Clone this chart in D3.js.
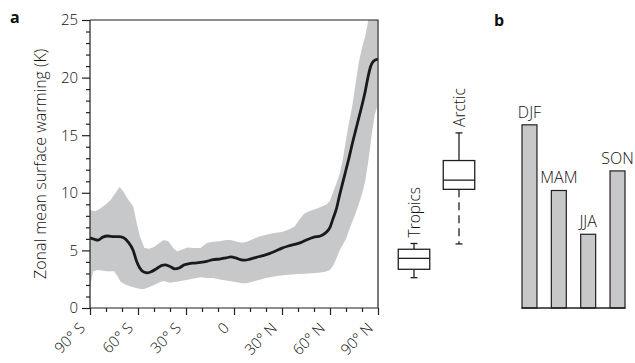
<!DOCTYPE html>
<html><head><meta charset="utf-8">
<script src="https://cdn.jsdelivr.net/npm/d3@7"></script>
<style>
html,body{margin:0;padding:0;background:#fff;}
text{font-family:"Open Sans","Noto Sans",sans-serif;font-weight:300;fill:#111;}
</style></head>
<body><svg id="c" width="635" height="363"></svg>
<script>
// ---- Panel a: zonal mean surface warming ----
const lineLat  = [-90,-87,-85,-82,-79,-75,-72,-69,-66,-63,-61,-59,-56,-54,-51,-48,-45,-43,-40,-37,-34,-31,-28,-25,-21,-17,-13,-9,-5,-2,1,4,7,10,14,18,22,26,30,34,38,42,46,50,54,57,60,62,64,66,68,70,72,74,76,78,80,82,84,85.5,87,90];
const lineMean = [6.1,5.95,5.9,6.15,6.25,6.2,6.2,6.1,5.7,5.0,4.1,3.5,3.1,3.05,3.2,3.45,3.7,3.75,3.6,3.4,3.5,3.75,3.85,3.9,3.96,4.05,4.2,4.25,4.35,4.43,4.35,4.2,4.15,4.25,4.4,4.55,4.72,4.95,5.2,5.38,5.52,5.7,5.95,6.15,6.25,6.5,7.0,7.8,8.6,9.8,10.9,12.0,13.1,14.3,15.4,16.5,17.6,18.8,20.2,21.0,21.4,21.6];

const upperLat = [-90,-87,-84,-80,-77,-74,-71.5,-69,-67,-65,-63,-61,-59,-56,-53,-50,-47,-44,-41,-38,-35.5,-32,-29,-25,-21,-17,-13,-9,-5,-2,2,5,8,12,16,20,25,30,35,38,41,44,47,51,55,58,60,62,64,66,68,70,72,74,76,78,80,82,84,86,89.5];
const upperVal = [8.5,8.4,8.6,9.0,9.4,10.0,10.5,10.1,9.6,9.2,8.8,7.5,6.3,5.2,5.15,5.3,5.6,5.9,5.8,5.2,4.9,5.1,5.25,5.2,5.2,5.65,5.75,5.8,5.9,5.9,5.75,5.67,5.75,6.0,6.2,6.35,6.5,6.6,6.85,7.1,7.7,8.2,8.4,8.6,8.8,9.0,9.3,10.1,10.8,11.6,12.9,14.6,16.2,17.6,19.5,21.3,22.6,23.6,25,26,27];

const lowerLat = [-90,-89,-88,-85,-80,-75,-73,-71,-68,-64,-60,-57,-54,-50,-46,-44,-40,-35,-30,-25,-21,-17,-13,-8,-3,1,5,8,12,16,20,26,32,40,47,53,57,60,62,64,66,68,70,72,74,76,78,80,82,84,86,88,89.5];
const lowerVal = [1.85,2.5,3.2,3.3,3.2,3.2,2.8,2.3,2.05,1.85,1.7,1.62,1.75,2.0,2.25,2.35,2.2,2.3,2.43,2.55,2.66,2.6,2.6,2.45,2.35,2.25,2.15,2.14,2.3,2.45,2.6,2.75,2.86,2.95,3.0,3.05,3.15,3.3,3.7,4.3,5.0,5.5,6.0,6.8,7.5,8.2,9.0,9.9,11.0,12.8,15.0,16.8,17.5];

const latTicks  = [-90,-60,-30,0,30,60,90];
const latLabels = ["90° S","60° S","30° S","0","30° N","60° N","90° N"];
const yTicks = [0,5,10,15,20,25];
const yTitle = "Zonal mean surface warming (K)";

// box plots (K)
const boxNames   = ["Tropics","Arctic"];
const boxMin     = [2.63,5.56];
const boxQ1      = [3.36,10.3];
const boxMedian  = [4.31,11.1];
const boxQ3      = [5.1,12.8];
const boxMax     = [5.6,15.2];

// ---- Panel b: seasonal Arctic warming ----
const seasons = ["DJF","MAM","JJA","SON"];
const seasonVal = [15.9,10.2,6.4,11.9];

const svg = d3.select("#c");
const ink = "#231f20", grey = "#c7c8ca";

const x = d3.scaleLinear().domain([-90,90]).range([90,378]);
const y = d3.scaleLinear().domain([0,25]).range([308,20]);

svg.append("defs").append("clipPath").attr("id","clipA")
  .append("rect").attr("x",90).attr("y",20).attr("width",288).attr("height",288);

// band
const bandPts = upperLat.map((l,i)=>[x(l),y(upperVal[i])])
  .concat(lowerLat.map((l,i)=>[x(l),y(lowerVal[i])]).reverse());
svg.append("path").attr("clip-path","url(#clipA)")
  .attr("d", d3.line().curve(d3.curveLinear)(bandPts)+"Z")
  .attr("fill",grey).attr("stroke","none");

// mean line
svg.append("path").attr("clip-path","url(#clipA)")
  .datum(lineLat.map((l,i)=>[l,lineMean[i]]))
  .attr("d", d3.line().x(d=>x(d[0])).y(d=>y(d[1])).curve(d3.curveMonotoneX))
  .attr("fill","none").attr("stroke","#1a1a1a").attr("stroke-width",2.8);

// frame
svg.append("path").attr("d",`M${x(-90)},${y(25)}H${x(90)}V${y(0)}`)
  .attr("fill","none").attr("stroke",ink).attr("stroke-width",1.2);

// y axis
const yAx = svg.append("g").attr("transform","translate(90,0)")
  .call(d3.axisLeft(y).tickValues(d3.range(0,26,1)).tickSize(4).tickFormat(""));
yAx.selectAll(".tick line").filter(d=>d%5===0).attr("x2",-8);
yAx.selectAll("path,line").attr("stroke",ink).attr("stroke-width",1.2);
yAx.select(".domain").attr("d","M0,20V308");
svg.append("g").selectAll("text").data(yTicks).join("text")
  .attr("x",78).attr("y",d=>y(d)).attr("dy","0.36em").attr("text-anchor","end")
  .attr("font-size",15).text(d=>d);

// x axis
const xAx = svg.append("g").attr("transform","translate(0,308)")
  .call(d3.axisBottom(x).tickValues(d3.range(-90,91,10)).tickSize(4).tickFormat(""));
xAx.selectAll(".tick line").filter(d=>d%30===0).attr("y2",7);
xAx.selectAll("path,line").attr("stroke",ink).attr("stroke-width",1.2);
xAx.select(".domain").attr("d","M90,0H378");
svg.append("g").selectAll("text").data(latTicks).join("text")
  .attr("transform",(d)=>`translate(${x(d)-4},329) rotate(-45)`)
  .attr("text-anchor","end").attr("font-size",15)
  .text((d,i)=>latLabels[i]);

// y title
svg.append("text").attr("transform",`translate(46,${(20+308)/2}) rotate(-90)`)
  .attr("text-anchor","middle").attr("font-size",16).text(yTitle);

// panel labels
svg.append("text").attr("x",10).attr("y",23).attr("font-size",16).style("font-weight",700).text("a");
svg.append("text").attr("x",494).attr("y",26).attr("font-size",16).style("font-weight",700).text("b");

// box plots
const bx = d3.scaleBand().domain(boxNames).range([396,477]).paddingInner(0.3).paddingOuter(0.05);
const bw = bx.bandwidth();
const gB = svg.append("g").attr("stroke",ink).attr("stroke-width",1.3).attr("fill","none");
boxNames.forEach((n,i)=>{
  const cx = bx(n)+bw/2;
  gB.append("line").attr("x1",cx).attr("x2",cx).attr("y1",y(boxQ3[i])).attr("y2",y(boxMax[i]));
  gB.append("line").attr("x1",cx).attr("x2",cx).attr("y1",y(boxQ1[i])).attr("y2",y(boxMin[i]))
    .attr("stroke-dasharray", n==="Arctic" ? "8,5" : null);
  gB.append("line").attr("x1",cx-3.5).attr("x2",cx+3.5).attr("y1",y(boxMax[i])).attr("y2",y(boxMax[i]));
  gB.append("line").attr("x1",cx-3.5).attr("x2",cx+3.5).attr("y1",y(boxMin[i])).attr("y2",y(boxMin[i]));
  gB.append("rect").attr("x",bx(n)).attr("width",bw).attr("y",y(boxQ3[i]))
    .attr("height",y(boxQ1[i])-y(boxQ3[i])).attr("fill","#fff");
  gB.append("line").attr("x1",bx(n)).attr("x2",bx(n)+bw).attr("y1",y(boxMedian[i])).attr("y2",y(boxMedian[i]));
  svg.append("text").attr("transform",`translate(${cx+6},${y(boxMax[i])-6}) rotate(-90)`)
    .attr("font-size",15.5).text(n);
});

// bar chart
const xb = d3.scaleBand().domain(seasons).range([522,625]).paddingInner(0.49).paddingOuter(0);
svg.append("g").selectAll("rect").data(seasons).join("rect")
  .attr("x",d=>xb(d)).attr("width",xb.bandwidth())
  .attr("y",(d,i)=>y(seasonVal[i])).attr("height",(d,i)=>y(0)-y(seasonVal[i]))
  .attr("fill",grey).attr("stroke",ink).attr("stroke-width",1.2);
svg.append("line").attr("x1",521.5).attr("x2",625.5).attr("y1",y(0)).attr("y2",y(0))
  .attr("stroke",ink).attr("stroke-width",1.3);
svg.append("g").selectAll("text").data(seasons).join("text")
  .attr("x",d=>xb(d)+xb.bandwidth()/2).attr("y",(d,i)=>y(seasonVal[i])-7)
  .attr("text-anchor","middle").attr("font-size",16).text(d=>d);
</script></body></html>
